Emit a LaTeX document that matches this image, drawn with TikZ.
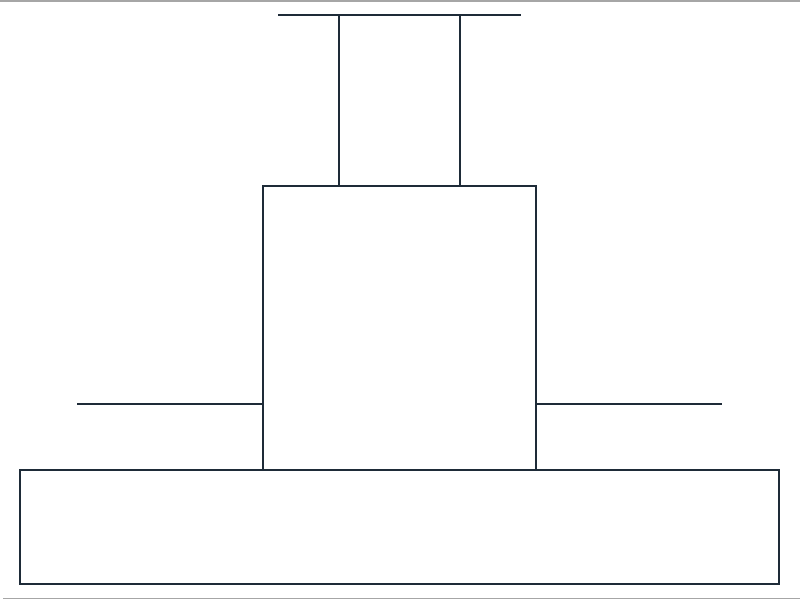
\documentclass[tikz,border=0pt]{standalone}
\begin{document}
\begin{tikzpicture}[x=1pt,y=-1pt,
  box/.style={draw=ink,line width=1.5pt,rectangle,inner sep=0pt,outer sep=0pt,fill=white},
  ln/.style={draw=ink,line width=1.5pt},
  frame/.style={draw=black!35,line width=1.5pt}]
\definecolor{ink}{HTML}{1E2B38}
\useasboundingbox (0,0) rectangle (800,600);
\coordinate (ftl) at (0,0.8);
\coordinate (ftr) at (800,0.8);
\coordinate (fbl) at (3,598.5);
\coordinate (fbr) at (800,598.5);
\draw[frame] (ftl) -- (ftr);
\draw[frame] (fbl) -- (fbr);
\node[box,minimum width=759pt,minimum height=114pt] (base) at (399.5,527) {};
\node[box,minimum width=273pt,minimum height=284pt] (mid) at (399.5,328) {};
\node[box,minimum width=121pt,minimum height=171pt] (top) at (399.5,100.5) {};
\coordinate (tl) at (278,15);
\coordinate (tr) at (521,15);
\draw[ln] (tl) -- (tr);
\coordinate (ll) at (77,404);
\coordinate (rr) at (722,404);
\draw[ln] (ll) -- (ll -| mid.west);
\draw[ln] (mid.east |- rr) -- (rr);
\end{tikzpicture}
\end{document}
